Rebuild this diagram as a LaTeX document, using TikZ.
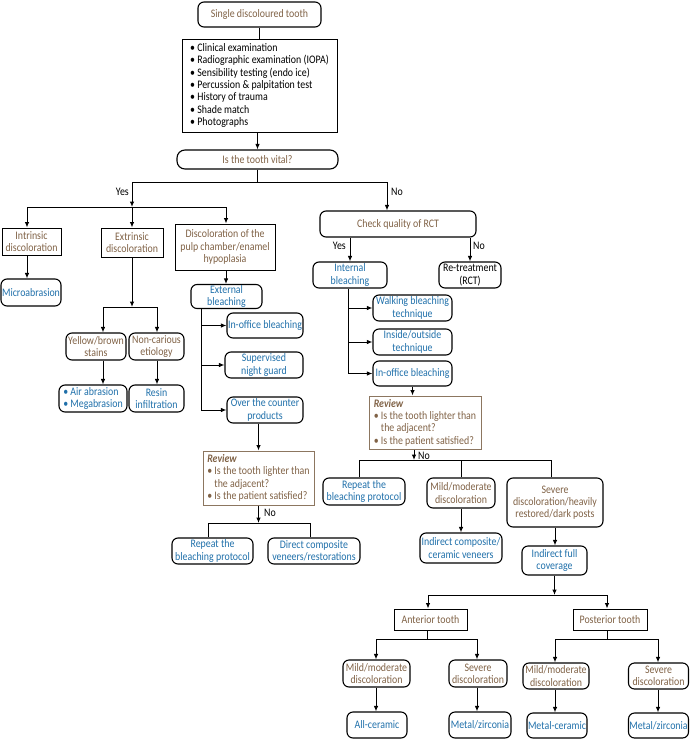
\documentclass[tikz,border=0pt]{standalone}
\usepackage{fontspec}
\setmainfont[FakeStretch=0.86]{Carlito}
\usetikzlibrary{arrows.meta}
\definecolor{brn}{RGB}{128,98,70}
\definecolor{blu}{RGB}{32,112,170}
\definecolor{revb}{RGB}{140,118,96}
\begin{document}
\begin{tikzpicture}[x=1pt,y=-1pt,
  every node/.style={font=\fontsize{11.5}{12.3}\selectfont, inner sep=1pt, align=center},
  sz/.style 2 args={minimum width=#1pt, minimum height=#2pt},
  sq/.style={draw=black, line width=0.9pt, rectangle},
  rb/.style={draw=black, line width=1.1pt, rounded corners=6pt},
  br/.style={text=brn},
  bl/.style={text=blu},
  rv/.style={draw=revb, line width=1pt, align=left, text=brn},
  ln/.style={line width=1pt},
  arr/.style={line width=1pt, -{Latex[length=5.5pt,width=4.5pt]}},
  lab/.style={inner sep=0pt, text=black}]
\useasboundingbox (0,0) rectangle (690,739);

% ---------- top ----------
\node[rb,br,sz={123}{25}] (start) at (259.5,14.5) {Single discoloured tooth};
\node[sq,sz={155}{93},align=left] (exam) at (259.5,85.5) {\textbullet\ Clinical examination\\
\textbullet\ Radiographic examination (IOPA)\\
\textbullet\ Sensibility testing (endo ice)\\
\textbullet\ Percussion \& palpitation test\\
\textbullet\ History of trauma\\
\textbullet\ Shade match\\
\textbullet\ Photographs};
\node[rb,br,sz={161}{19},rounded corners=8pt] (vital) at (257.5,159.5) {Is the tooth vital?};

% ---------- vital: yes ----------
\node[sq,br,sz={59}{27}] (intr) at (31.5,241.5) {Intrinsic\\discoloration};
\node[rb,bl,sz={60}{27},inner sep=0pt] (micro) at (31,292.5) {Microabrasion};
\node[sq,br,sz={62}{29}] (extr) at (132,242.5) {Extrinsic\\discoloration};
\node[sq,br,sz={100}{46}] (disc) at (225,247) {Discoloration of the\\pulp chamber/enamel\\hypoplasia};
\node[rb,bl,sz={71}{24},inner sep=0pt] (extb) at (226.5,296.5) {External\\bleaching};
\node[rb,bl,sz={76}{25},inner sep=0pt] (inoff1) at (265,325.5) {In-office bleaching};
\node[rb,bl,sz={78}{26}] (superv) at (264,365) {Supervised\\night guard};
\node[rb,bl,sz={76}{26}] (otc) at (265,410) {Over the counter\\products};
\node[rv,sz={111}{54}] (rev1) at (258.5,478) {{\bfseries\itshape Review}\\
\textbullet\ Is the tooth lighter than\\
\hphantom{\textbullet\ }the adjacent?\\
\textbullet\ Is the patient satisfied?};
\node[rb,br,sz={60}{27},inner sep=0pt] (yellow) at (96,346.5) {Yellow/brown\\stains};
\node[rb,br,sz={55}{27},inner sep=0pt] (noncar) at (156.5,346.5) {Non-carious\\etiology};
\node[rb,bl,sz={68}{27},align=left,inner sep=0pt] (air) at (93,398.5) {\textbullet\ Air abrasion\\\textbullet\ Megabrasion};
\node[rb,bl,sz={55}{27},inner sep=0pt] (resin) at (156.5,398.5) {Resin\\infiltration};
\node[rb,bl,sz={81}{26},inner sep=0pt] (rep1) at (212.5,551) {Repeat the\\bleaching protocol};
\node[rb,bl,sz={92}{26},inner sep=0pt] (direct) at (314,551) {Direct composite\\veneers/restorations};

% ---------- vital: no ----------
\node[rb,br,sz={156}{26}] (rct) at (398,224) {Check quality of RCT};
\node[rb,bl,sz={74}{26},inner sep=0pt] (intb) at (350,275) {Internal\\bleaching};
\node[rb,sz={62}{26},inner sep=0pt] (retr) at (470,275) {Re-treatment\\(RCT)};
\node[rb,bl,sz={79}{26},inner sep=0pt] (walk) at (412.5,308) {Walking bleaching\\technique};
\node[rb,bl,sz={79}{26},inner sep=0pt] (inout) at (412.5,342) {Inside/outside\\technique};
\node[rb,bl,sz={79}{25},inner sep=0pt] (inoff2) at (412.5,373.5) {In-office bleaching};
\node[rv,sz={112}{53}] (rev2) at (425,422.5) {{\bfseries\itshape Review}\\
\textbullet\ Is the tooth lighter than\\
\hphantom{\textbullet\ }the adjacent?\\
\textbullet\ Is the patient satisfied?};
\node[rb,bl,sz={82}{27},inner sep=0pt] (rep2) at (364,491.5) {Repeat the\\bleaching protocol};
\node[rb,br,sz={68}{30},inner sep=0pt] (mild1) at (461,493) {Mild/moderate\\discoloration};
\node[rb,br,sz={96}{49},inner sep=0pt] (sev1) at (555,502.5) {Severe\\discoloration/heavily\\restored/dark posts};
\node[rb,bl,sz={82}{30},inner sep=0pt] (indc) at (461,548) {Indirect composite/\\ceramic veneers};
\node[rb,bl,sz={65}{29},inner sep=0pt] (indf) at (554.5,560.5) {Indirect full\\coverage};
\node[sq,br,sz={73}{21}] (ant) at (430.5,619.5) {Anterior tooth};
\node[sq,br,sz={74}{21}] (post) at (610,619.5) {Posterior tooth};
\node[rb,br,sz={67}{27},inner sep=0pt] (amild) at (376.5,673.5) {Mild/moderate\\discoloration};
\node[rb,br,sz={58}{27},inner sep=0pt] (asev) at (478,673.5) {Severe\\discoloration};
\node[rb,br,sz={66}{26},inner sep=0pt] (pmild) at (556,676) {Mild/moderate\\discoloration};
\node[rb,br,sz={60}{26},inner sep=0pt] (psev) at (658.5,676) {Severe\\discoloration};
\node[rb,bl,sz={60}{26}] (allc) at (377,725) {All-ceramic};
\node[rb,bl,sz={62}{26},inner sep=0pt] (mz1) at (480,725) {Metal/zirconia};
\node[rb,bl,sz={60}{25},inner sep=0pt] (mc) at (557,725.5) {Metal-ceramic};
\node[rb,bl,sz={60}{25},inner sep=0pt] (mz2) at (658.5,725.5) {Metal/zirconia};

% ---------- connectors: top ----------
\draw[ln] (start) -- (exam);
\draw[arr] (exam.south -| vital) -- (vital.north);
\coordinate (jy) at (132,182);
\coordinate (jn) at (387,182);
\draw[ln] (vital.south) |- (jy);
\draw[ln] (vital.south) |- (jn);
\coordinate (jy2) at (132,207);
\draw[arr] (jy) -- (jy2);
\node[lab,anchor=east] (lyes1) at (129,192) {Yes};
\coordinate (ja) at (27,207);
\coordinate (jb) at (226,207);
\draw[ln] (ja) -- (jb);
\draw[arr] (ja) -- (ja |- intr.north);
\draw[arr] (jy2) -- (jy2 |- extr.north);
\draw[arr] (jb) -- (jb |- disc.north);
\draw[arr] (jn) -- (jn |- rct.north);
\node[lab,anchor=west] (lno1) at (391,192) {No};

% ---------- connectors: yes branch ----------
\draw[arr] (ja |- intr.south) -- (ja |- micro.north);
\coordinate (je) at (132,307);
\coordinate (jeL) at (103,307);
\coordinate (jeR) at (157,307);
\draw[arr] (extr.south) -- (je);
\draw[ln] (jeL) -- (jeR);
\draw[arr] (jeL) -- (jeL |- yellow.north);
\draw[arr] (jeR) -- (jeR |- noncar.north);
\draw[arr] (jeL |- yellow.south) -- (jeL |- air.north);
\draw[arr] (jeR |- noncar.south) -- (jeR |- resin.north);
\draw[arr] (jb |- disc.south) -- (jb |- extb.north);
\coordinate (xe) at (201,410);
\draw[arr] (xe |- extb.south) |- (otc.west);
\draw[arr] (xe |- inoff1) -- (inoff1.west);
\draw[arr] (xe |- superv) -- (superv.west);
\draw[arr] (rev1.north |- otc.south) -- (rev1.north);
\coordinate (jr1) at (258.5,523);
\draw[arr] (rev1.south) -- (jr1);
\node[lab,anchor=west] (lno2) at (264,513) {No};
\coordinate (r1L) at (208,523);
\coordinate (r1R) at (310,523);
\draw[ln] (r1L |- rep1.north) -- (r1L) -- (r1R) -- (r1R |- direct.north);

% ---------- connectors: no branch ----------
\draw[arr] (rct.south -| intb) -- (intb.north);
\node[lab,anchor=east] (lyes2) at (346,246) {Yes};
\draw[arr] (rct.south -| retr) -- (retr.north);
\node[lab,anchor=west] (lno3) at (473,246) {No};
\coordinate (xi) at (348,373.5);
\draw[arr] (xi |- intb.south) |- (inoff2.west);
\draw[arr] (xi |- walk) -- (walk.west);
\draw[arr] (xi |- inout) -- (inout.west);
\draw[arr] (inoff2.south) -- (inoff2.south |- rev2.north);
\coordinate (r2) at (414,460);
\draw[arr] (r2 |- rev2.south) -- (r2);
\node[lab,anchor=west] (lno4) at (418,456) {No};
\coordinate (r2L) at (359,460);
\coordinate (r2M) at (461,460);
\coordinate (r2R) at (551,460);
\draw[ln] (r2L |- rep2.north) -- (r2L) -- (r2R) -- (r2R |- sev1.north);
\draw[ln] (r2M) -- (r2M |- mild1.north);
\draw[arr] (mild1.south) -- (indc.north);
\draw[arr] (sev1.south) -- (sev1.south |- indf.north);
\coordinate (jf) at (554.5,595);
\coordinate (fL) at (428,595);
\coordinate (fR) at (607,595);
\draw[arr] (indf.south) -- (jf);
\draw[ln] (fL) -- (fR);
\draw[arr] (fL) -- (fL |- ant.north);
\draw[arr] (fR) -- (fR |- post.north);
\coordinate (aj) at (427,639);
\coordinate (aL) at (376,639);
\coordinate (aR) at (477,639);
\draw[ln] (aj |- ant.south) -- (aj);
\draw[ln] (aL) -- (aR);
\draw[arr] (aL) -- (aL |- amild.north);
\draw[arr] (aR) -- (aR |- asev.north);
\coordinate (pj) at (607,639);
\coordinate (pL) at (555,639);
\coordinate (pR) at (658,639);
\draw[ln] (pj |- post.south) -- (pj);
\draw[ln] (pL) -- (pR);
\draw[arr] (pL) -- (pL |- pmild.north);
\draw[arr] (pR) -- (pR |- psev.north);
\draw[arr] (aL |- amild.south) -- (aL |- allc.north);
\draw[arr] (aR |- asev.south) -- (aR |- mz1.north);
\draw[arr] (pL |- pmild.south) -- (pL |- mc.north);
\draw[arr] (pR |- psev.south) -- (pR |- mz2.north);
\end{tikzpicture}
\end{document}
